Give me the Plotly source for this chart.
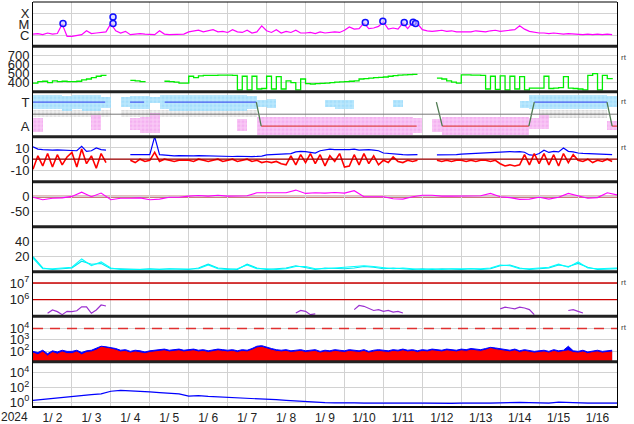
import pandas as pd
import plotly.graph_objects as go

# ---------------- time bases ----------------
t3 = pd.date_range("2024-01-02", periods=120, freq="3h")      # 3-hourly samples
t6 = pd.date_range("2024-01-02", periods=61, freq="6h")       # 6-hourly samples
t6c = pd.date_range("2024-01-02 03:00", periods=60, freq="6h")  # 6-h slot centres

# ---------------- panel 1 : X-ray flux (log10 W/m2) ----------------
xray_log10 = [
    -5.9, -5.85, -5.95, -5.8, -5.9, -5.85, -5.0, -6.1,
    -6.1, -6.05, -5.95, -5.6, -5.85, -5.8, -5.75, -5.7,
    -4.95, -5.6, -5.8, -5.65, -5.95, -5.9, -5.85, -5.9,
    -5.95, -5.95, -5.6, -5.9, -5.95, -5.95, -5.95, -5.9,
    -5.7, -5.65, -5.55, -5.7, -5.6, -5.5, -5.7, -5.65,
    -5.75, -5.5, -5.7, -5.75, -5.55, -5.8, -5.7, -5.15,
    -5.6, -5.75, -5.5, -5.8, -5.65, -5.75, -5.55, -5.8,
    -5.8, -5.75, -5.85, -5.7, -5.8, -5.75, -5.7, -5.75,
    -5.55, -5.25, -5.45, -5.4, -4.9, -5.4, -5.35, -5.2,
    -4.8, -5.45, -5.35, -5.45, -4.9, -5.4, -4.85, -4.95,
    -5.5, -5.6, -5.65, -5.6, -5.55, -5.65, -5.6, -5.7,
    -5.7, -5.65, -5.7, -5.6, -5.65, -5.7, -5.6, -5.55,
    -5.65, -5.6, -5.55, -5.5, -5.15, -5.45, -5.65, -5.75,
    -5.8, -5.8, -5.85, -5.8, -5.85, -5.9, -5.85, -5.9,
    -5.9, -5.95, -5.9, -5.95, -5.9, -5.95, -5.9, -5.95,
]
flare_time = ["2024-01-02 18:30", "2024-01-04 01:20", "2024-01-04 01:20",
              "2024-01-10 12:50", "2024-01-10 23:40", "2024-01-11 12:50",
              "2024-01-11 18:20", "2024-01-11 19:50"]
flare_log10 = [-4.95, -4.95, -4.36, -4.86, -4.74, -4.86, -4.83, -4.95]

# ---------------- panel 2 : solar wind speed ----------------
speed = [
    395, 410, 415, 400, 420, 410, 415, 410,
    410, 415, 430, 440, 455, 470, 480, 475,
    None, None, None, None, 425, 420, 410, 405,
    None, None, None, 415, 410, 405, 395, 395,
    470, 455, 475, 480, 480, 480, 482, 482,
    482, 480, 320, 470, 320, 470, 330, 335,
    470, 330, 465, 330, 420, 400, 320, 440,
    390, 385, 388, 392, 395, 400, 405, 408,
    410, 415, 420, 440, 445, 450, 455, 458,
    462, 470, 478, 482, 485, 488, 490, 490,
    None, None, None, 450, 440, 420, 405, 395,
    485, 485, 483, 482, 480, 330, 470, 325,
    475, 320, 470, 330, 465, 320, 340, 340,
    340, 470, 335, 340, 345, 465, 340, 335,
    330, 320, 480, 500, 320, 480, 445, 450,
]

# ---------------- panel 3 : IMF sector (T = +1, A = -1) ----------------
toward_lo = [0.4, 0.4, 0.4, 0.3, 0.4, 0.3, 0.3, 0.5, None, 0.6, 0.4, 0.4,
             0.9, 0.4, 0.3, 0.3, 0.3, 0.3, 0.3, 0.3, 0.3, 0.3, 0.4, 0.6,
             0.5, None, None, None, None, None, 0.6, 0.4, 0.4, None, None, None,
             None, 0.6, None, None, None, None, None, None, None, None, None, None,
             None, None, 0.5, 0.4, 0.4, 0.4, 0.4, 0.4, 0.4, 0.4, 0.4, 0.6]
toward_hi = [1.6, 1.6, 1.6, 1.5, 1.6, 1.6, 1.6, 1.4, None, 1.4, 1.5, 1.5,
             1.45, 1.6, 1.6, 1.6, 1.6, 1.6, 1.6, 1.6, 1.6, 1.6, 1.5, 1.2,
             1.3, None, None, None, None, None, 1.2, 1.2, 1.2, None, None, None,
             None, 1.2, None, None, None, None, None, None, None, None, None, None,
             None, None, 1.1, 1.6, 1.6, 1.6, 1.6, 1.6, 1.6, 1.6, 1.6, 1.5]
away_lo = [-1.5, None, None, None, None, None, -1.3, None, None, None, -1.3, -1.6,
           -1.6, None, None, None, None, None, None, None, None, -1.4, None, -1.7,
           -1.7, -1.7, -1.7, -1.7, -1.7, -1.7, -1.7, -1.7, -1.7, -1.7, -1.7, -1.7,
           -1.7, -1.7, -1.7, -1.6, None, -1.5, -1.7, -1.7, -1.7, -1.7, -1.7, -1.7,
           -1.7, -1.7, -1.7, -1.2, -1.2, None, None, None, None, None, None, -1.3]
away_hi = [-0.3, None, None, None, None, None, -0.1, None, None, None, -0.3, -0.2,
           0.1, None, None, None, None, None, None, None, None, -0.4, None, -0.2,
           -0.2, -0.2, -0.2, -0.2, -0.2, -0.2, -0.2, -0.2, -0.2, -0.2, -0.2, -0.2,
           -0.2, -0.2, -0.2, -0.3, None, -0.4, -0.2, -0.2, -0.2, -0.2, -0.2, -0.2,
           -0.2, -0.2, -0.2, -0.3, -0.1, None, None, None, None, None, None, -0.6]
gray_lo = [-0.2, -0.2, -0.2, -0.2, -0.2, -0.2, -0.2, -0.2, None, -0.2, -0.2, -0.2,
           -0.2, -0.2, -0.2, -0.2, -0.2, -0.2, -0.2, -0.2, -0.2, -0.2, -0.2, None,
           None, None, None, None, None, None, None, None, None, None, None, None,
           None, None, None, None, None, None, None, None, None, None, None, None,
           None, None, None, None, -0.3, -0.3, -0.3, -0.3, -0.3, -0.3, -0.3, None]
gray_hi = [0.35, 0.35, 0.35, 0.35, 0.35, 0.35, 0.35, 0.35, None, 0.35, 0.35, 0.35,
           0.35, 0.35, 0.35, 0.35, 0.35, 0.35, 0.35, 0.35, 0.35, 0.35, 0.35, None,
           None, None, None, None, None, None, None, None, None, None, None, None,
           None, None, None, None, None, None, None, None, None, None, None, None,
           None, None, None, None, 0.35, 0.35, 0.35, 0.35, 0.35, 0.35, 0.35, None]
sector_time = ["2024-01-02 00:00", "2024-01-03 20:30", None,
               "2024-01-04 11:50", "2024-01-04 20:30", None,
               "2024-01-05 09:10", "2024-01-07 17:40", "2024-01-07 20:40",
               "2024-01-11 20:30", None,
               "2024-01-12 08:40", "2024-01-12 12:20", "2024-01-14 17:40",
               "2024-01-14 21:00", "2024-01-16 17:50", "2024-01-16 21:00",
               "2024-01-17 00:00"]
sector_val = [1, 1, None, 1, 1, None, 1, 1, -1, -1, None, 1, -1, -1, 1, 1, -1, -1]

# ---------------- panel 4 : IMF Bt / Bz (nT) ----------------
bt = [
    11, 9, 8.5, 8, 8, 8.3, 8, 8,
    8, 7.5, 11.5, 7, 7.5, 10, 8.5, 8,
    None, None, None, None, 4, 3.8, 3.8, 4,
    4, 20, 4, 3.5, 3.2, 3, 3.2, 3,
    3, 3, 3.2, 3, 2.8, 3, 3, 2.8,
    2.5, 2.4, 2.6, 2.4, 2.5, 2.3, 2.5, 2.8,
    3.8, 4, 3.8, 4, 4.5, 5, 6.5, 7,
    6.8, 6, 5.5, 7.5, 8, 8.9, 8.5, 8.5,
    8, 8.5, 8.9, 8, 8.2, 8.5, 8, 7.5,
    5.5, 5, 4.8, 4.2, 4, 3.9, 3.8, 4,
    None, None, None, 3.8, 3.8, 3.8, 3.8, 4,
    4.5, 4.7, 5, 5.2, 5.5, 6, 6.2, 6.5,
    6.8, 6.5, 6.8, 6.5, 6.8, 6.2, 3.8, 3.5,
    5, 8, 6, 7, 6.5, 10, 7, 6.5,
    5.5, 5.2, 5, 4.5, 4, 4.2, 3.8, 4,
]
bz = [
    -9, 3, -6, 5, -7, 4, -5, 2,
    6, -7, 9, -4, 3, -8, 5, -3,
    None, None, None, None, -1, -3, 0, -2,
    -1, 6, -2, 0, -1, -2, -1, -1,
    -1, -2, 0, -1, -2, -1, 0, -2,
    -1, 0, -2, -1, 0, -2, -1, -3,
    -2, -3, -2, -4, -5, 3, -5, 4,
    -3, 5, -4, 4, -6, 3, -2, 5,
    -7, -6, 4, -5, 5, -4, 3, -5,
    -1, -3, 2, -2, -3, -1, -2, -1,
    None, None, None, -1, -2, -1, -2, -1,
    -1, -2, -1, -2, -1, -1, -2, -1,
    -4, -6, -5, -6, -5, 4, -5, 5,
    -4, 5, -5, 4, -6, 5, -3, 4,
    -1, -2, 0, -3, -1, -2, 0, -2,
]

# ---------------- panel 5 : Dst (nT) ----------------
dst = [-2, -10, -5, -4, 1, 15, 0, 12, -10, -5, -5, -4, -10, -8, -2, -2,
       2, 4, 2, 5, 2, 2, 3, 13, 13, 15, 13, 22, 11, 13, 12, 14,
       12, 20, 0, 0, 0, -7, -8, 0, 5, 5, 2, 2, 2, 2, 3, 11,
       0, -3, -9, -8, -2, -8, -2, 11, 2, -5, -3, 13, 6]

# ---------------- panel 6 : density ----------------
dens_a = [18, 4, 4, 5, 6, 17, 8, 13, 5, 3, 3, 4, 3, 4, 3, 4,
          4, 4, 9, 4, 3, 4, 9, 4, 4, 3, 4, 7, 7, 4, 4, 5,
          5, 6, 8, 7, 5, 4, 5, 4, 3, 4, 3, 4, 4, 3, 4, 5,
          9, 8, 4, 4, 5, 6, 10, 6, 13, 5, 4, 5, 5]
dens_b = [20, 5, 3, 4, 5, 14, 10, 11, 4, 4, 3, 3, 4, 3, 4, 3,
          3, 5, 10, 5, 4, 3, 10, 5, 3, 4, 5, 8, 6, 3, 5, 4,
          4, 5, 7, 6, 4, 5, 4, 3, 4, 3, 4, 3, 3, 4, 3, 4,
          8, 9, 5, 3, 4, 5, 9, 7, 11, 6, 3, 4, 4]

# ---------------- panel 7 : electron flux (log10) ----------------
elec_log10 = [
    5.78, None, None, 5.18, 5.38, 5.28, 5.1, 5.3,
    5.28, 5.33, 5.57, 5.57, 5.18, 5.38, 5.68, 5.62,
    None, None, None, None, None, None, None, None,
    None, None, None, None, None, None, None, None,
    None, None, None, None, None, None, None, None,
    None, None, None, None, None, None, None, None,
    None, None, None, 5.15, None, None, 5.2, 5.35,
    5.3, 5.1, 5.15, None, 5.1, None, None, 5.05,
    None, None, 5.4, 5.65, 5.6, 5.45, 5.35, 5.4,
    5.3, 5.35, 5.25, 5.3, 5.2, None, None, None,
    None, None, None, None, None, None, None, None,
    None, None, None, 5.05, None, None, None, None,
    5.45, 5.55, 5.5, 5.45, 5.55, 5.5, 5.4, 5.1,
    None, None, 5.15, None, None, None, 5.35, 5.4,
    5.3, 5.2, None, None, None, None, None, None,
]

# ---------------- panel 8 : proton flux (log10) ----------------
prot_blue = [
    2.0, 1.9, 2.1, 1.8, 2.05, 1.95, 2.1, 2.0,
    2.0, 2.1, 1.9, 2.05, 2.1, 2.25, 2.45, 2.4,
    2.35, 2.25, 2.1, 2.15, 2.0, 2.1, 2.05, 1.95,
    2.05, 2.1, 2.15, 2.2, 2.1, 2.15, 2.2, 2.1,
    2.15, 2.2, 2.1, 2.15, 2.05, 2.15, 2.2, 2.15,
    2.1, 2.15, 2.05, 2.15, 2.1, 2.25, 2.45, 2.5,
    2.35, 2.25, 2.15, 2.1, 2.15, 2.05, 2.1, 2.15,
    2.05, 2.1, 2.15, 2.0, 2.1, 2.05, 2.15, 2.1,
    2.05, 2.15, 2.1, 2.05, 2.15, 2.0, 2.1, 2.15,
    2.1, 2.05, 2.15, 2.1, 2.2, 2.1, 2.15, 2.05,
    2.15, 2.1, 2.2, 2.15, 2.1, 2.2, 2.15, 2.1,
    2.2, 2.15, 2.25, 2.2, 2.15, 2.25, 2.35, 2.3,
    2.25, 2.15, 2.1, 2.2, 2.05, 2.15, 2.1, 2.0,
    2.05, 2.1, 2.0, 2.15, 2.05, 2.1, 2.45, 2.05,
    2.0, 2.1, 1.95, 2.05, 2.1, 2.0, 2.05, 2.1,
]
prot_red = [
    1.85, 1.7, 1.95, 1.6, 1.9, 1.75, 1.95, 1.8,
    1.8, 1.95, 1.7, 1.9, 1.95, 2.1, 2.35, 2.3,
    2.2, 2.1, 1.95, 2.0, 1.85, 1.95, 1.9, 1.8,
    1.9, 1.95, 2.0, 2.05, 1.95, 2.0, 2.05, 1.95,
    2.0, 2.05, 1.95, 2.0, 1.9, 2.0, 2.05, 2.0,
    1.95, 2.0, 1.9, 2.0, 1.95, 2.1, 2.3, 2.35,
    2.2, 2.1, 2.0, 1.95, 2.0, 1.9, 1.95, 2.0,
    1.9, 1.95, 2.0, 1.85, 1.95, 1.9, 2.0, 1.95,
    1.9, 2.0, 1.95, 1.9, 2.0, 1.85, 1.95, 2.0,
    1.95, 1.9, 2.0, 1.95, 2.05, 1.95, 2.0, 1.9,
    2.0, 1.95, 2.05, 2.0, 1.95, 2.05, 2.0, 1.95,
    2.05, 2.0, 2.1, 2.05, 2.0, 2.1, 2.25, 2.15,
    2.1, 2.0, 1.95, 2.05, 1.9, 2.0, 1.95, 1.85,
    1.9, 1.95, 1.85, 2.0, 1.9, 1.95, 2.05, 1.9,
    1.85, 1.95, 1.8, 1.9, 1.95, 1.85, 1.9, 1.95,
]

# ---------------- panel 9 : fluence (log10) ----------------
flu_log10 = [0.25, 0.4, 0.5, 0.6, 0.85, 0.95, 1.05, 1.15, 1.5, 1.62, 1.58, 1.5,
             1.4, 1.32, 1.25, 1.15, 0.85, 0.9, 0.8, 0.75, 0.7, 0.62, 0.55, 0.5,
             0.4, 0.35, 0.25, 0.15, 0.05, 0.0, -0.05, -0.08, -0.05, -0.08, -0.1, -0.08,
             -0.1, -0.08, -0.12, -0.1, -0.12, -0.15, -0.12, -0.15, -0.12, -0.15, -0.12, -0.1,
             -0.05, 0.05, 0.0, -0.05, -0.08, -0.1, 0.02, -0.05, -0.1, -0.12, -0.1, -0.12, -0.12]

# ---------------- axis tick labels ----------------
xray_ticks, xray_text = [-6, -5, -4], ["C", "M", "X"]
speed_ticks = [400, 500, 600, 700]
imf_ticks, imf_text = [10, 0, -10], ["10", "0", "-10"]
dst_ticks, dst_text = [0, -50], ["0", "-50"]
dens_ticks = [20, 40]
elec_ticks = [6, 7]
prot_ticks = [2, 3, 4]
flu_ticks = [0, 2, 4]

# ================= figure =================
W, H = 634, 424
L, R, T, B = 33, 17, 2, 18
PH = H - T - B
bounds_px = [2, 46.3, 91.7, 136.7, 181.7, 226.7, 271.7, 316.3, 361.7, 406]
FONT = "Liberation Sans, Arial, sans-serif"


def py(p):
    return (H - B - p) / PH


fig = go.Figure()

# panel 1
fig.add_trace(go.Scatter(x=t3, y=xray_log10, mode="lines", line=dict(color="#ff00ff", width=1.2), yaxis="y"))
fig.add_trace(go.Scatter(x=pd.to_datetime(flare_time), y=flare_log10, mode="markers",
                         marker=dict(symbol="circle", size=6, color="rgba(200,200,255,0.6)",
                                     line=dict(color="#1010ff", width=1.5)), yaxis="y"))
# panel 2
fig.add_trace(go.Scatter(x=t3, y=speed, mode="lines", line=dict(color="#00ee00", width=1.3, shape="hv"),
                         yaxis="y2"))


# panel 3 bands (dotted clouds)
def band(lo, hi, fg, bg):
    h = [(hh - ll) if (ll is not None and hh is not None) else None for ll, hh in zip(lo, hi)]
    return go.Bar(x=t6c, y=h, base=lo, width=6 * 3600 * 1000,
                  marker=dict(color=bg, line=dict(width=0),
                              pattern=dict(shape=".", fgcolor=fg, bgcolor=bg, size=4, solidity=0.5,
                                           fillmode="overlay")),
                  yaxis="y3")


fig.add_trace(band(gray_lo, gray_hi, "rgba(175,175,175,0.8)", "rgba(210,210,210,0.3)"))
fig.add_trace(band(toward_lo, toward_hi, "#8fd6fa", "rgba(170,226,252,0.8)"))
fig.add_trace(band(away_lo, away_hi, "#f29cee", "rgba(246,186,243,0.8)"))

# sector prediction line split by colour
seg = {"#4a5cf0": ([], []), "#e04848": ([], []), "#4e7a50": ([], [])}
for i in range(len(sector_time) - 1):
    a, b2 = sector_val[i], sector_val[i + 1]
    if a is None or b2 is None:
        continue
    c = "#4a5cf0" if (a == 1 and b2 == 1) else ("#e04848" if (a == -1 and b2 == -1) else "#4e7a50")
    seg[c][0].extend([pd.Timestamp(sector_time[i]), pd.Timestamp(sector_time[i + 1]), None])
    seg[c][1].extend([a, b2, None])
for c, (xx, yy) in seg.items():
    fig.add_trace(go.Scatter(x=xx, y=yy, mode="lines", line=dict(color=c, width=1.3), yaxis="y3"))

# panel 4
fig.add_trace(go.Scatter(x=t3, y=bt, mode="lines", line=dict(color="#0000ff", width=1.2), yaxis="y4"))
fig.add_trace(go.Scatter(x=t3, y=bz, mode="lines", line=dict(color="#ff0000", width=1.6), yaxis="y4"))
# panel 5
fig.add_trace(go.Scatter(x=t6, y=dst, mode="lines", line=dict(color="#ff00ff", width=1.1), yaxis="y5"))
# panel 6
fig.add_trace(go.Scatter(x=t6, y=dens_b, mode="lines", line=dict(color="#00e5ee", width=1.1), yaxis="y6"))
fig.add_trace(go.Scatter(x=t6, y=dens_a, mode="lines", line=dict(color="#00ffff", width=1.1), yaxis="y6"))
# panel 7
fig.add_trace(go.Scatter(x=t3, y=elec_log10, mode="lines", line=dict(color="#9b30d0", width=1.2), yaxis="y7"))
# panel 8
fig.add_trace(go.Scatter(x=t3, y=prot_blue, mode="lines", fill="tozeroy", fillcolor="#0000ff",
                         line=dict(color="#0000ff", width=1), yaxis="y8"))
fig.add_trace(go.Scatter(x=t3, y=prot_red, mode="lines", fill="tozeroy", fillcolor="#ff0000",
                         line=dict(color="#ff0000", width=1), yaxis="y8"))
# panel 9
fig.add_trace(go.Scatter(x=t6, y=flu_log10, mode="lines", line=dict(color="#0000ff", width=1.2), yaxis="y9"))

grid = "#d2d2d2"
tf = dict(family=FONT, size=13, color="#222")
specs = [
    dict(range=[-7, -3], tickvals=xray_ticks, ticktext=xray_text),
    dict(range=[300, 800], tickvals=speed_ticks, ticktext=[str(v) for v in speed_ticks]),
    dict(range=[-1.875, 1.875], tickvals=[1, -1], ticktext=["T", "A"], showgrid=False),
    dict(range=[-20, 20], tickvals=imf_ticks, ticktext=imf_text),
    dict(range=[-100, 50], tickvals=dst_ticks, ticktext=dst_text),
    dict(range=[0, 60], tickvals=dens_ticks, ticktext=[str(v) for v in dens_ticks]),
    dict(range=[5, 7.68], tickvals=elec_ticks, ticktext=["10<sup>%d</sup>" % v for v in elec_ticks]),
    dict(range=[1.1, 5.06], tickvals=prot_ticks, ticktext=["10<sup>%d</sup>" % v for v in prot_ticks]),
    dict(range=[-0.5, 5.5], tickvals=flu_ticks, ticktext=["10<sup>%d</sup>" % v for v in flu_ticks]),
]
layout = {}
for i, sp in enumerate(specs):
    key = "yaxis" if i == 0 else "yaxis%d" % (i + 1)
    d = dict(domain=[py(bounds_px[i + 1]), py(bounds_px[i])], anchor="x", showgrid=True, gridcolor=grid,
             gridwidth=1, zeroline=False, showline=True, linecolor="black", linewidth=1, mirror=True,
             ticks="", tickfont=tf, tickmode="array", fixedrange=True, automargin=False)
    d.update(sp)
    layout[key] = d

fig.update_layout(template="none")
fig.update_layout(**layout)
fig.update_layout(
    width=W, height=H, margin=dict(l=L, r=R, t=T, b=B, pad=0), autosize=False,
    paper_bgcolor="white", plot_bgcolor="white", showlegend=False, barmode="overlay", bargap=0,
    font=dict(family=FONT, size=12, color="#222"),
    xaxis=dict(type="date", range=["2024-01-02", "2024-01-17"], anchor="y9", domain=[0, 1],
               dtick=86400000, tick0="2024-01-02", tickformat="%-m/%e", ticklabelmode="period",
               showgrid=True, gridcolor=grid, ticks="", showline=True, linecolor="black", linewidth=2,
               ticklabelstandoff=0, automargin=False, zeroline=False,
               tickfont=dict(family=FONT, size=12, color="#222"), fixedrange=True),
)

shapes = []
# reference lines
shapes.append(dict(type="line", xref="paper", x0=0, x1=1, yref="y3", y0=0, y1=0, line=dict(color="#777", width=1)))
shapes.append(dict(type="line", xref="paper", x0=0, x1=1, yref="y4", y0=0, y1=0, line=dict(color="#a00000", width=1.3)))
shapes.append(dict(type="line", xref="paper", x0=0, x1=1, yref="y5", y0=0, y1=0,
                   line=dict(color="rgba(190,90,90,0.8)", width=2.5), layer="below"))
for v in elec_ticks:
    shapes.append(dict(type="line", xref="paper", x0=0, x1=1, yref="y7", y0=v, y1=v,
                       line=dict(color="#cc0000", width=1.3)))
shapes.append(dict(type="line", xref="paper", x0=0, x1=1, yref="y8", y0=4, y1=4,
                   line=dict(color="#e03030", width=1.5, dash="10px,7px")))
# panel separators
for p in bounds_px[1:-1]:
    shapes.append(dict(type="line", xref="paper", x0=0, x1=1, yref="paper", y0=py(p), y1=py(p),
                       line=dict(color="#222", width=3)))
shapes.append(dict(type="line", xref="paper", x0=0, x1=1, yref="paper", y0=1, y1=1,
                   line=dict(color="black", width=1)))
fig.update_layout(shapes=shapes)

ann = [dict(text="2024", xref="paper", yref="paper", x=0, y=0, xanchor="right", yanchor="top",
            xshift=-3, yshift=-2, showarrow=False, font=dict(family=FONT, size=12, color="#222"))]
for p in [57, 101, 147, 282, 327]:
    ann.append(dict(text="rt", xref="paper", yref="paper", x=1, y=py(p), xanchor="left", yanchor="middle",
                    xshift=2, showarrow=False, font=dict(family=FONT, size=8, color="#444")))
fig.update_layout(annotations=ann)

fig.write_html("out.html", config={"staticPlot": True},
               post_script="document.body.style.margin='0';document.body.style.padding='0';")
